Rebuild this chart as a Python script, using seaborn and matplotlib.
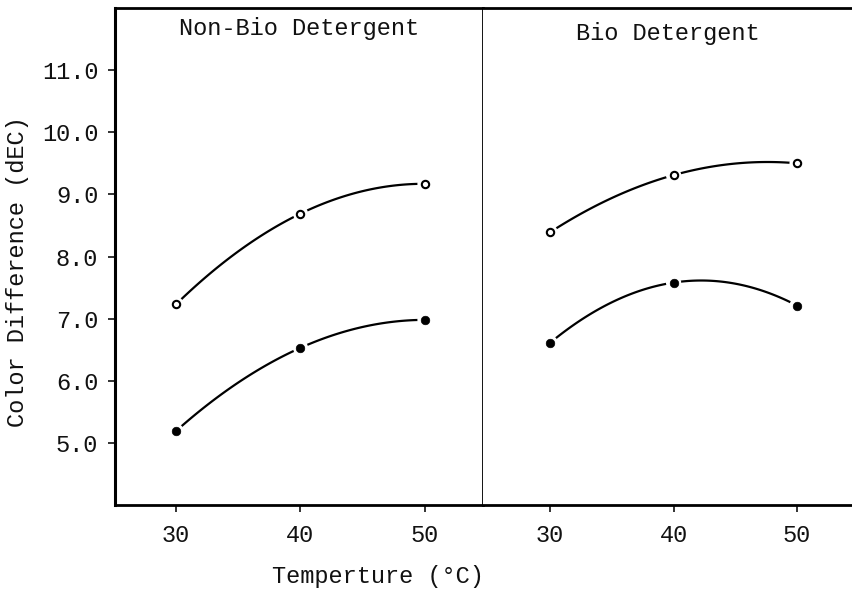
import numpy as np
import pandas as pd
import matplotlib
matplotlib.use("Agg")
import matplotlib.pyplot as plt
import seaborn as sns

temps = [30, 40, 50]
panels = ["Non-Bio Detergent", "Bio Detergent"]
nonbio_open = [7.23, 8.69, 9.17]
nonbio_filled = [5.19, 6.53, 6.98]
bio_open = [8.39, 9.31, 9.50]
bio_filled = [6.61, 7.58, 7.21]
y_ticks = [5.0, 6.0, 7.0, 8.0, 9.0, 10.0, 11.0]
x_label = "Temperture (°C)"
y_label = "Color Difference (dEC)"

sns.set_theme(style="ticks")
plt.rcParams["font.family"] = ["Liberation Mono", "DejaVu Sans Mono"]

FS = 17
fig = plt.figure(figsize=(8.53, 5.93), dpi=100)
L, M, R = 115 / 853, 483 / 853, 1.0
B, T = 1 - 505 / 593, 1 - 8 / 593
ax1 = fig.add_axes([L, B, M - L, T - B])
ax2 = fig.add_axes([M, B, R - M, T - B])

series = [(ax1, nonbio_open, nonbio_filled, (25.1, 54.66), 0.958),
          (ax2, bio_open, bio_filled, (24.57, 54.53), 0.948)]

for (ax, yo, yf, xl, ty), title in zip(series, panels):
    for vals, filled in [(yo, False), (yf, True)]:
        df = pd.DataFrame({"t": temps, "v": vals})
        sns.regplot(data=df, x="t", y="v", order=2, ci=None, scatter=False,
                    ax=ax, line_kws=dict(color="black", lw=1.6), truncate=True)
        # white halo to create gap between curve and markers
        sns.scatterplot(data=df, x="t", y="v", ax=ax, s=120, color="white",
                        edgecolor="none", zorder=3, legend=False)
        if filled:
            sns.scatterplot(data=df, x="t", y="v", ax=ax, s=38, color="black",
                            edgecolor="black", zorder=4, legend=False)
        else:
            sns.scatterplot(data=df, x="t", y="v", ax=ax, s=28, color="white",
                            edgecolor="black", linewidth=1.5, zorder=4, legend=False)
    ax.set_xlim(*xl)
    ax.set_ylim(4.0, 12.0)
    ax.set_xticks(temps)
    ax.set_xticklabels([str(t) for t in temps])
    ax.set_xlabel("")
    ax.set_ylabel("")
    ax.text(0.5, ty, title, transform=ax.transAxes, ha="center", va="center",
            fontsize=FS, color="#111111")
    ax.tick_params(axis="x", direction="out", length=5, width=1.2, pad=9,
                   labelsize=FS, colors="#111111")
    for s in ax.spines.values():
        s.set_color("black")
    ax.spines["top"].set_linewidth(2.0)
    ax.spines["bottom"].set_linewidth(2.0)

ax1.set_yticks(y_ticks)
ax1.set_yticklabels([f"{v:.1f}" for v in y_ticks])
ax1.tick_params(axis="y", direction="out", length=5, width=1.2, pad=7,
                labelsize=FS, colors="#111111")
ax1.spines["left"].set_linewidth(2.2)
ax1.spines["right"].set_linewidth(1.3)
ax1.spines["right"].set_visible(True)
ax1.spines["top"].set_visible(True)
ax2.spines["left"].set_visible(False)
ax2.spines["right"].set_visible(False)
ax2.spines["top"].set_visible(True)
ax2.set_yticks([])

fig.text(378 / 853, 1 - 577 / 593, x_label, ha="center", va="center",
         fontsize=FS, color="#111111")
fig.text(18 / 853, 1 - 272 / 593, y_label, ha="center", va="center",
         rotation=90, fontsize=FS, color="#111111")

fig.savefig("out.png", dpi=100)
